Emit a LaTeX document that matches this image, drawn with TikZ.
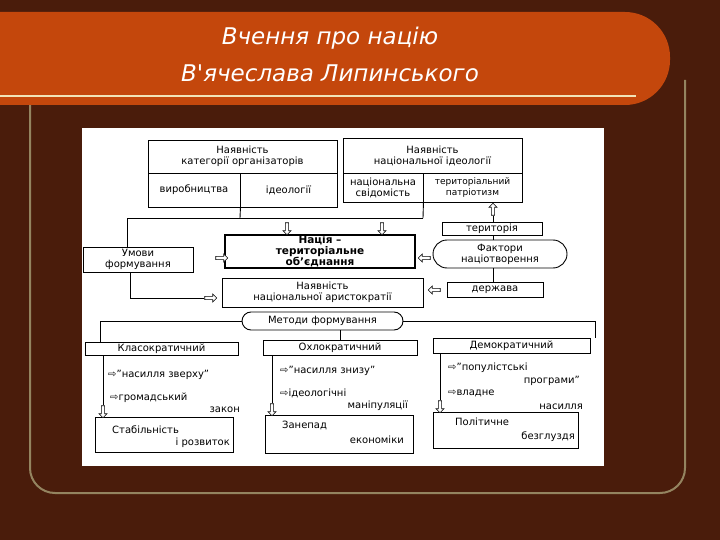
\documentclass[tikz,border=0pt]{standalone}
\usepackage{fontspec}
\setmainfont{DejaVu Sans}
\newfontfamily\titlefont{DejaVu Sans}
\usetikzlibrary{shapes.arrows}
\definecolor{bgbrown}{HTML}{4A1C0B}
\definecolor{barorange}{HTML}{C4470C}
\definecolor{cream}{HTML}{F2E4B8}
\definecolor{olive}{HTML}{948460}
\tikzset{
  bx/.style={draw, rectangle, inner sep=0pt, line width=0.9pt},
  rbx/.style={draw, rectangle, rounded corners=9pt, inner sep=0pt, line width=0.9pt},
  txt/.style={inner sep=0pt, font=\fontsize{10}{11}\selectfont, align=center},
  lt/.style={inner sep=0pt, font=\fontsize{10}{11}\selectfont, anchor=west},
  rt/.style={inner sep=0pt, font=\fontsize{10}{11}\selectfont, anchor=east},
  harrow/.style={draw, fill=white, single arrow, single arrow head extend=2pt, minimum height=12pt, minimum width=8pt, inner sep=1pt, line width=0.6pt},
  ln/.style={line width=0.9pt}
}
\begin{document}
\begin{tikzpicture}[x=1pt,y=-1pt]
\useasboundingbox (0,0) rectangle (720,540);
\fill[bgbrown] (0,0) rectangle (720,540);
% frame
\draw[olive, line width=2pt, rounded corners=25pt] (30,105) -- (30,493) -- (685,493) -- (685,80);
% title bar
\fill[barorange, rounded corners=45pt] (-60,12) rectangle (670,105);
\draw[cream, line width=2pt] (0,96) -- (636,96);
\node[text=white, font=\titlefont\itshape\fontsize{23}{25}\selectfont] (t1) at (330,38) {Вчення про націю};
\node[text=white, font=\titlefont\itshape\fontsize{23}{25}\selectfont] (t2) at (330,73) {В'ячеслава Липинського};
% white panel
\fill[white] (82,128) rectangle (604,466);
% top boxes
\node[bx, minimum width=189pt, minimum height=33pt, txt] (A) at (242.5,156.5) {Наявність\\категорії організаторів};
\node[bx, minimum width=92pt, minimum height=34pt, txt] (A1) at (194,190) {виробництва};
\node[bx, minimum width=97pt, minimum height=34pt, txt] (A2) at (288.5,190) {ідеології};
\node[bx, minimum width=179pt, minimum height=35pt, txt] (B) at (432.5,155.5) {Наявність\\національної ідеології};
\node[bx, minimum width=80pt, minimum height=29pt, txt] (B1) at (383,187.5) {національна\\свідомість};
\node[bx, minimum width=99pt, minimum height=29pt, txt, font=\fontsize{9}{10.5}\selectfont] (B2) at (472.5,187.5) {територіальний\\патріотизм};
\coordinate (jA) at (240,218);
\coordinate (jB) at (423,218);
\coordinate (jL) at (127,218);
\node[bx, minimum width=110pt, minimum height=25pt, txt] (U) at (138,259.5) {Умови\\формування};
\node[bx, line width=1.4pt, minimum width=190pt, minimum height=33pt, txt, font=\bfseries\fontsize{10.5}{11}\selectfont] (N) at (320,251.5) {Нація –\\територіальне\\об'єднання};
\node[rbx, rounded corners=14pt, minimum width=134pt, minimum height=28pt, txt] (F) at (500,254) {Фактори\\націотворення};
\node[bx, minimum width=100pt, minimum height=13pt, txt] (T) at (492,228.5) {територія};
\node[bx, minimum width=96pt, minimum height=15pt, txt] (D) at (495,289.5) {держава};
\node[bx, minimum width=201pt, minimum height=29pt, txt] (Ar) at (322.5,292.5) {Наявність\\національної аристократії};
\draw[ln] (A1.south east) -- (jA);
\draw[ln] (B1.south east) -- (jB);
\draw[ln] (jB) -- (jL) -- (jL |- U.north);
\node[harrow, rotate=-90] (ad1) at (287,228) {};
\node[harrow, rotate=-90] (ad2) at (382,228) {};
\node[harrow] (aUN) at (221,258) {};
\node[harrow, rotate=180] (aFN) at (425,258) {};
\node[harrow, rotate=180] (aDA) at (435,290) {};
\node[harrow, rotate=90] (aTB) at (493,210) {};
\draw[ln] (493,240) -- (T.south -| 493,0);
\draw[ln] (493,268) -- (D.north -| 493,0);
\draw[ln] (aTB.west) -- (T.north -| aTB.west);
\node[harrow] (aUA) at (210,298) {};
\coordinate (jU) at (130,298);
\draw[ln] (U.south -| jU) -- (jU) -- (aUA.west);
% methods
\node[rbx, minimum width=161pt, minimum height=18pt, txt] (M) at (322.5,321) {Методи формування};
\node[bx, minimum width=153pt, minimum height=13pt, txt] (K) at (161.5,348.5) {Класократичний};
\node[bx, minimum width=154pt, minimum height=15pt, txt] (O) at (340,347.5) {Охлократичний};
\node[bx, minimum width=157pt, minimum height=15pt, txt] (Dm) at (511.5,345.5) {Демократичний};
\coordinate (mL) at (100,321);
\coordinate (mR) at (595,321);
\draw[ln] (M.west) -- (mL) -- (mL |- K.north);
\draw[ln] (M.east) -- (mR) -- (mR |- Dm.north);
\draw[ln] (M.south -| O.north) -- (O.north);
% outcomes
\node[bx, minimum width=138pt, minimum height=35pt] (S) at (164,434.5) {};
\node[bx, minimum width=148pt, minimum height=38pt] (Z) at (339,434) {};
\node[bx, minimum width=145pt, minimum height=36pt] (P) at (505.5,430) {};
\node[harrow, rotate=-90] (aK) at (103,411) {};
\node[harrow, rotate=-90] (aO) at (272,409) {};
\node[harrow, rotate=-90] (aD) at (440,406) {};
\draw[ln] (K.south -| aK.west) -- (aK.west);
\draw[ln] (O.south -| aO.west) -- (aO.west);
\draw[ln] (Dm.south -| aD.west) -- (aD.west);
% texts
\node[lt] (k1) at (108,375) {⇨"насилля зверху"};
\node[lt] (k2) at (110,398) {⇨громадський};
\node[rt] (k3) at (240,410) {закон};
\node[lt] (o1) at (280,371) {⇨"насилля знизу"};
\node[lt] (o2) at (280,393) {⇨ідеологічні};
\node[rt] (o3) at (408,406) {маніпуляції};
\node[lt] (d1) at (448,368) {⇨"популістські};
\node[rt] (d2) at (580,381) {програми"};
\node[lt] (d3) at (448,393) {⇨владне};
\node[rt] (d4) at (583,407) {насилля};
\node[lt] (s1) at (112,430) {Стабільність};
\node[rt] (s2) at (230,443) {і розвиток};
\node[lt] (z1) at (282,425) {Занепад};
\node[rt] (z2) at (404,440) {економіки};
\node[lt] (p1) at (455,422) {Політичне};
\node[rt] (p2) at (575,437) {безглуздя};
\end{tikzpicture}
\end{document}
